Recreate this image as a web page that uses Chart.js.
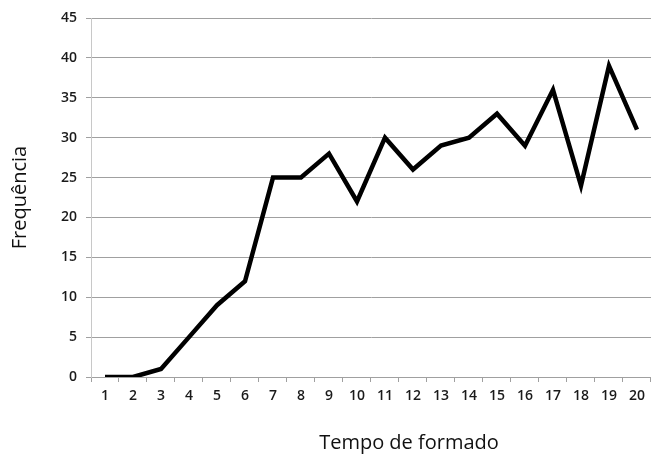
<!DOCTYPE html>
<html>
<head>
<meta charset="utf-8">
<script src="https://cdn.jsdelivr.net/npm/chart.js@4"></script>
<style>
  html, body { margin: 0; padding: 0; background: #fff; }
  #wrap { width: 651px; height: 455px; }
</style>
</head>
<body>
<div id="wrap"><canvas id="lineChart"></canvas></div>
<script>
// chart data
const categories = ["1","2","3","4","5","6","7","8","9","10","11","12","13","14","15","16","17","18","19","20"];
const frequencia = [0, 0, 1, 5, 9, 12, 25, 25, 28, 22, 30, 26, 29, 30, 33, 29, 36, 24, 39, 31];
const yTicks = [0, 5, 10, 15, 20, 25, 30, 35, 40, 45];

const tickFont = { family: "'Open Sans', sans-serif", size: 14, weight: "600" };
const titleFont = { family: "'Open Sans', sans-serif", size: 20 };

//x axis title is off-centre in the original, draw it by hand
const xTitle = {
  id: "xTitle",
  afterDraw(chart) {
    const ctx = chart.ctx;
    ctx.save();
    ctx.font = "20px 'Open Sans', sans-serif";
    ctx.fillStyle = "#111";
    ctx.textAlign = "center";
    ctx.textBaseline = "middle";
    ctx.fillText("Tempo de formado", 409, 443);
    ctx.restore();
  },
};

const el = document.getElementById("lineChart");
const chart = new Chart(el, {
  type: "line",
  data: {
    labels: categories,
    datasets: [
      {
        label: "Frequência",
        data: frequencia,
        borderColor: "#000",
        borderWidth: 4.5,
        pointRadius: 0,
        tension: 0,
        borderJoinStyle: "miter",
      },
    ],
  },
  options: {
    responsive: true,
    maintainAspectRatio: false,
    animation: false,
    layout: { padding: { top: 18, right: 0, left: 0, bottom: 0 } },
    plugins: {
      legend: { display: false },
      tooltip: { enabled: false },
    },
    scales: {
      x: {
        offset: true,
        afterFit(scale) { scale.height = 78; },
        grid: {
          offset: true,
          drawOnChartArea: false,
          drawTicks: true,
          tickLength: 5,
          color: "#a0a0a0",
        },
        border: { color: "#a0a0a0" },
        ticks: { font: tickFont, color: "#1a1a1a", padding: 6, maxRotation: 0, autoSkip: false },
      },
      y: {
        min: 0,
        max: 45,
        afterFit(scale) { scale.width = 91; },
        afterBuildTicks(scale) { scale.ticks = yTicks.map(v => ({ value: v })); },
        grid: { color: "#a0a0a0", tickLength: 5 },
        border: { color: "#c8c8c8" },
        ticks: { font: tickFont, color: "#1a1a1a", padding: 9 },
        title: {
          display: true,
          text: "Frequência",
          font: titleFont,
          color: "#111",
          padding: { top: 8, bottom: 0 },
        },
      },
    },
  },
  plugins: [xTitle],
});
</script>
</body>
</html>
